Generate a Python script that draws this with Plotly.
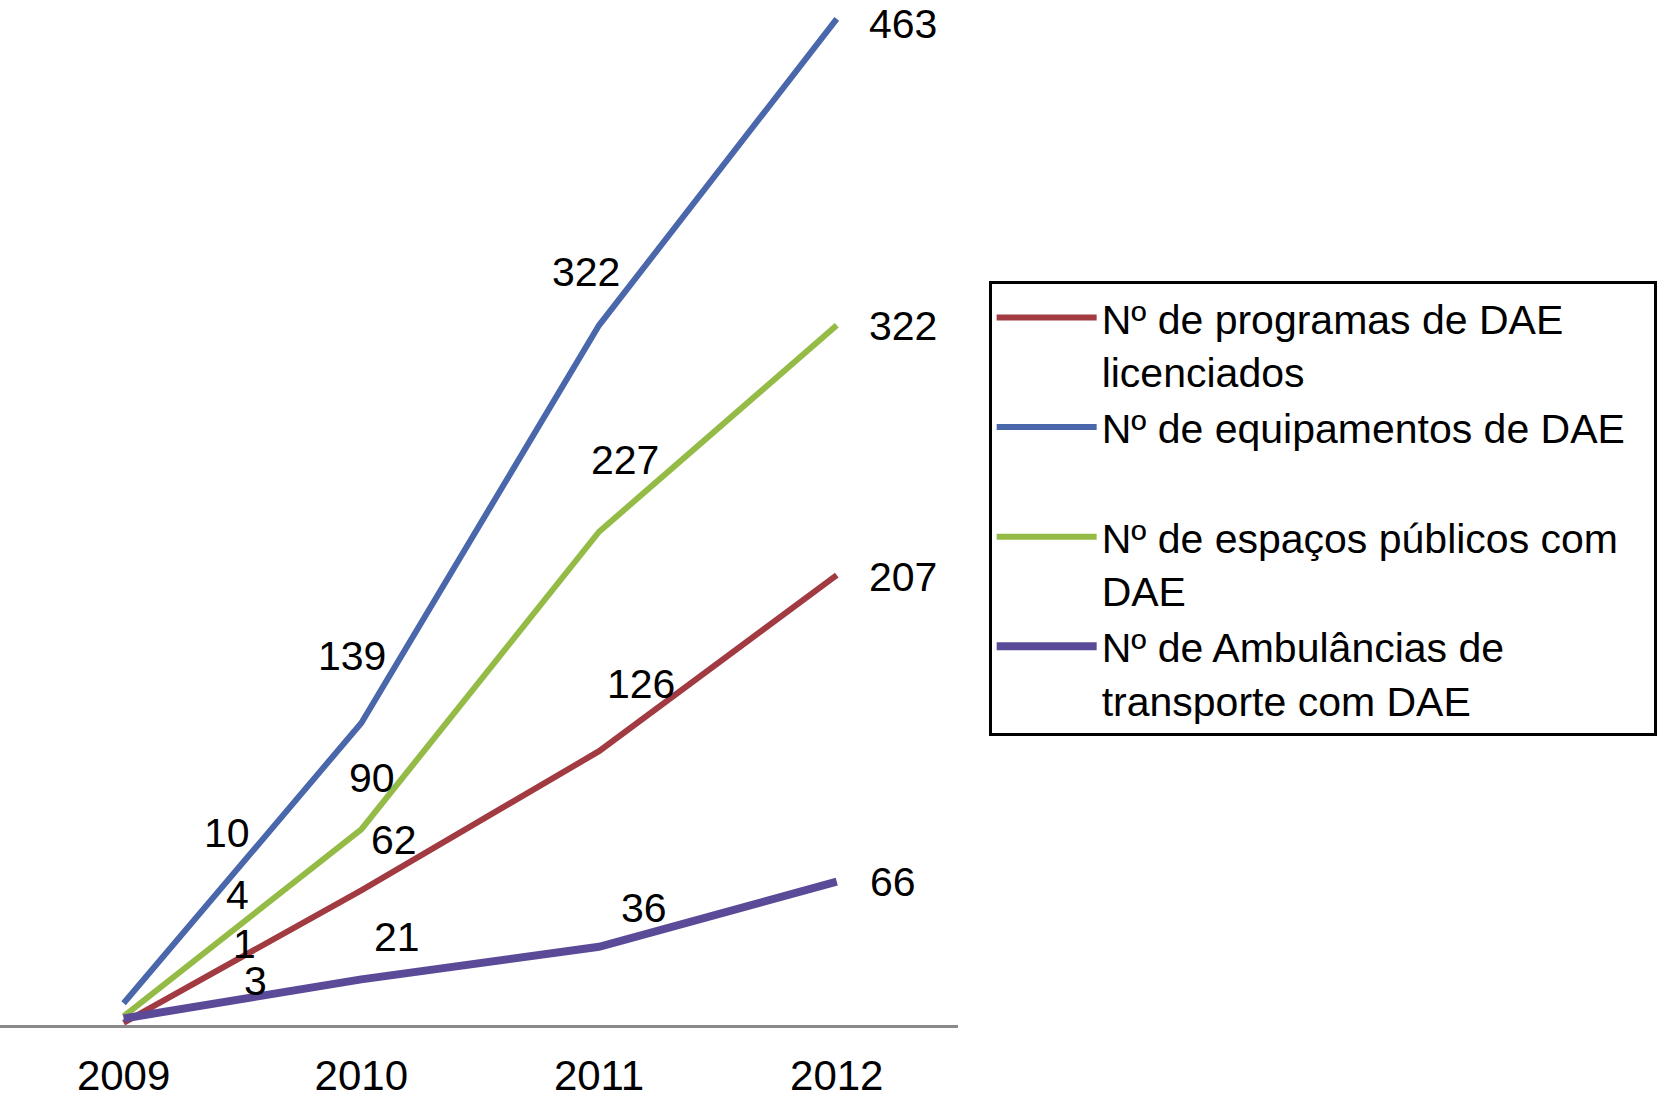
import plotly.graph_objects as go

# data
years = [2009, 2010, 2011, 2012]
series_names = [
    "Nº de programas de DAE<br>licenciados",
    "Nº de equipamentos de DAE\u00a0\u00a0<br> ",
    "Nº de espaços públicos com<br>DAE",
    "Nº de Ambulâncias de<br>transporte com DAE",
]
programas = [1, 62, 126, 207]
equipamentos = [10, 139, 322, 463]
espacos = [4, 90, 227, 322]
ambulancias = [3, 21, 36, 66]

# styling
colors = ["#a23a42", "#4a67ab", "#93bb45", "#5a4a98"]
widths = [6, 6, 6, 8]
# where each value label sits relative to its point (pixels)
label_shift = [
    [(121, 79), (33, 50), (42, 67), (66, -2)],
    [(103, 170), (-9, 67), (-13, 53), (66, -5)],
    [(114, 121), (11, 51), (26, 72), (66, -1)],
    [(132, 37), (36, 42), (45, 39), (56, 0)],
]
FONT = "Liberation Sans, Arial, sans-serif"

fig = go.Figure()
all_values = [programas, equipamentos, espacos, ambulancias]

# draw in back-to-front order like the original (purple on top)
for idx in [1, 2, 0, 3]:
    fig.add_trace(
        go.Scatter(
            x=years,
            y=all_values[idx],
            mode="lines",
            name=series_names[idx],
            line={"color": colors[idx], "width": widths[idx]},
            legendrank=idx + 1,
        )
    )

for idx, vals in enumerate(all_values):
    for year, val, (dx, dy) in zip(years, vals, label_shift[idx]):
        fig.add_annotation(
            x=year,
            y=val,
            text=str(val),
            showarrow=False,
            xshift=dx,
            yshift=dy,
            font={"family": FONT, "size": 41, "color": "black"},
        )

fig.update_xaxes(
    range=[2008.48, 2012.51],
    tickvals=years,
    ticktext=[str(y) for y in years],
    showgrid=False,
    zeroline=False,
    showline=True,
    linecolor="#8a8a8a",
    linewidth=3,
    ticks="outside",
    ticklen=12,
    tickcolor="rgba(0,0,0,0)",
    tickfont={"family": FONT, "size": 42, "color": "black"},
)
fig.update_yaxes(
    range=[0, 471.7],
    visible=False,
)

fig.update_layout(
    width=1661,
    height=1099,
    margin={"l": 0, "r": 703, "t": 0, "b": 60},
    plot_bgcolor="white",
    paper_bgcolor="white",
    showlegend=True,
    legend={
        "x": 1.032,
        "y": 0.7255,
        "xanchor": "left",
        "yanchor": "top",
        "bordercolor": "black",
        "borderwidth": 3,
        "bgcolor": "white",
        "font": {"family": FONT, "size": 41, "color": "black"},
        "valign": "top",
        "itemwidth": 100,
        "tracegroupgap": 0,
        "traceorder": "normal",
    },
)

fig.write_html(
    "out.html",
    config={"displayModeBar": False},
    post_script="document.body.style.margin='0';",
)
